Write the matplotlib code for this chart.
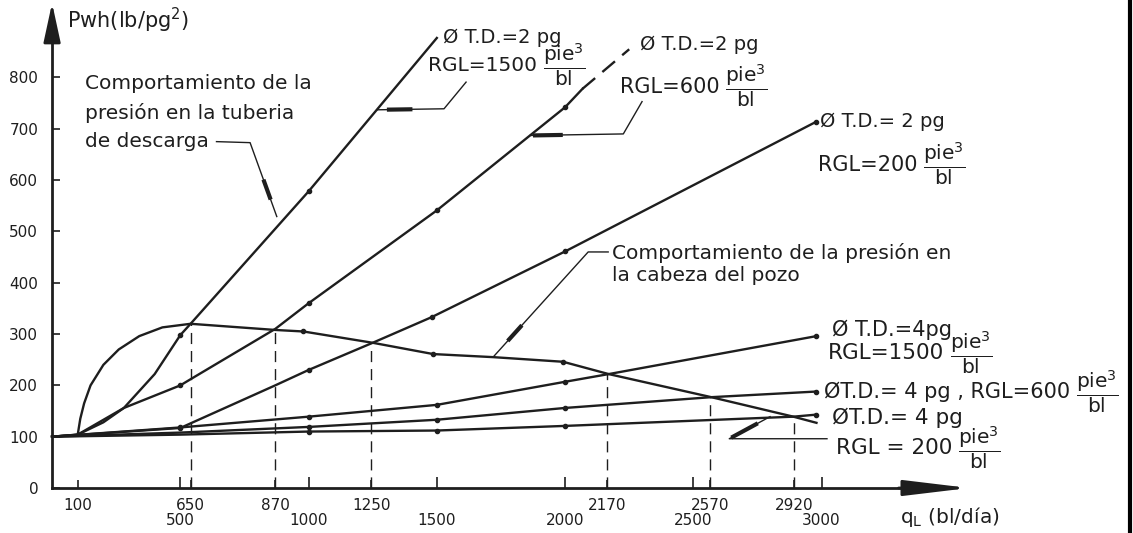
import numpy as np
import matplotlib.pyplot as plt
from matplotlib.lines import Line2D

# q_L (bl/dia) vs Pwh (lb/pg2)
q_2_1500 = [0, 100, 200, 280, 400, 500, 540, 1000, 1500]
p_2_1500 = [100, 104, 128, 156, 222, 298, 320, 578, 877]

q_2_600 = [0, 100, 280, 500, 540, 870, 1000, 1500, 2000, 2068]
p_2_600 = [100, 104, 156, 200, 212, 310, 360, 541, 742, 778]
q_2_600_ext = [2068, 2250]
p_2_600_ext = [778, 855]

q_2_200 = [0, 500, 870, 1000, 1250, 1480, 2000, 2980]
p_2_200 = [100, 117, 200, 230, 283, 333, 461, 714]

q_4_1500 = [0, 500, 1000, 1500, 2000, 2170, 2980]
p_4_1500 = [100, 118, 139, 162, 207, 222, 296]

q_4_600 = [0, 500, 1000, 1500, 2000, 2570, 2980]
p_4_600 = [100, 108, 119, 133, 156, 177, 188]

q_4_200 = [0, 500, 1000, 1500, 2000, 2890, 2980]
p_4_200 = [100, 104, 110, 112, 121, 139, 143]

# presion en la cabeza del pozo
q_wh = [100, 110, 125, 150, 200, 260, 340, 430, 540, 870, 980, 1250,
        1486, 1720, 1992, 2170, 2570, 2890, 2980]
p_wh = [104, 135, 165, 200, 240, 270, 296, 313, 320, 308, 305, 283,
        261, 255, 246, 222, 177, 139, 127]

# intersections (dashed drop lines) and their labels
q_cross = [540, 870, 1245, 2165, 2565, 2893]
p_cross = [320, 310, 283, 222, 177, 139]
cross_labels = ['650', '870', '1250', '2170', '2570', '2920']

y_ticks = [0, 100, 200, 300, 400, 500, 600, 700, 800]
x_ticks = [500, 1000, 1500, 2000, 2500, 3000]

ink = '#1e1e1e'

fig = plt.figure(figsize=(11.33, 5.33), dpi=100)
ax = fig.add_axes([0, 0, 1, 1])
ax.set_xlim(-203, 4214)
ax.set_ylim(-87.7, 951)

for s in ['top', 'right']:
    ax.spines[s].set_visible(False)
ax.spines['left'].set_position(('data', 0))
ax.spines['bottom'].set_position(('data', 0))
ax.spines['left'].set_bounds(0, 900)
ax.spines['bottom'].set_bounds(0, 3400)
for s in ['left', 'bottom']:
    ax.spines[s].set_linewidth(2)
    ax.spines[s].set_color(ink)

ax.set_yticks(y_ticks)
ax.set_yticklabels([str(v) for v in y_ticks])
ax.set_xticks(x_ticks)
ax.set_xticklabels([str(v) for v in x_ticks])
ax.set_xticks([100] + q_cross, minor=True)
ax.set_xticklabels(['100'] + cross_labels, minor=True)
ax.tick_params(axis='y', direction='in', length=6, width=1.2, pad=10,
               labelsize=11, colors=ink)
ax.tick_params(axis='x', which='major', direction='in', length=8, width=1.2,
               pad=18, labelsize=11, colors=ink)
ax.tick_params(axis='x', which='minor', direction='in', length=6, width=1.2,
               pad=7, labelsize=11, colors=ink)

# axis arrows
ax.annotate('', xy=(0, 945), xytext=(0, 880),
            arrowprops=dict(arrowstyle='-|>,head_length=0.6,head_width=0.13',
                            mutation_scale=40, color=ink, lw=2,
                            shrinkA=0, shrinkB=0))
ax.annotate('', xy=(3575, 0), xytext=(3300, 0),
            arrowprops=dict(arrowstyle='-|>,head_length=1.0,head_width=0.12',
                            mutation_scale=40, color=ink, lw=2,
                            shrinkA=0, shrinkB=0))

lw = 1.7
ax.plot(q_2_1500, p_2_1500, color=ink, lw=lw, marker='o', ms=3, markevery=[5, 7])
ax.plot(q_2_600, p_2_600, color=ink, lw=lw, marker='o', ms=3, markevery=[3, 6, 7, 8])
ax.plot(q_2_600_ext, p_2_600_ext, color=ink, lw=lw, ls=(0, (7, 4)))
ax.plot(q_2_200, p_2_200, color=ink, lw=lw, marker='o', ms=3, markevery=[1, 3, 5, 6, 7])
ax.plot(q_4_1500, p_4_1500, color=ink, lw=lw, marker='o', ms=3, markevery=[1, 2, 3, 4, 6])
ax.plot(q_4_600, p_4_600, color=ink, lw=lw, marker='o', ms=3, markevery=[2, 3, 4, 6])
ax.plot(q_4_200, p_4_200, color=ink, lw=lw, marker='o', ms=3, markevery=[2, 3, 4, 6])
ax.plot(q_wh, p_wh, color=ink, lw=lw, marker='o', ms=3, markevery=[10, 12, 14])

ax.vlines(q_cross, 0, p_cross, colors=ink, lw=1, linestyles=(0, (8, 5)))


def leader(pts, seg, t0, t1):
    pts = np.array(pts, dtype=float)
    ax.plot(pts[:, 0], pts[:, 1], color=ink, lw=1)
    a, b = pts[seg], pts[seg + 1]
    ax.plot([a[0] + (b[0] - a[0]) * t0, a[0] + (b[0] - a[0]) * t1],
            [a[1] + (b[1] - a[1]) * t0, a[1] + (b[1] - a[1]) * t1],
            color=ink, lw=3, solid_capstyle='butt')


leader([(641, 675), (772, 673), (876, 529)], 1, 0.5, 0.77)
leader([(1266, 737), (1528, 739), (1614, 791)], 0, 0.15, 0.53)
leader([(1864, 687), (2227, 690), (2300, 753)], 0, 0.03, 0.35)
leader([(2168, 460), (2090, 460), (1721, 256)], 1, 0.7, 0.85)
leader([(3021, 96), (2640, 96), (2799, 139)], 1, 0.05, 0.7)

frac = r'$\dfrac{\mathrm{pie}^{3}}{\mathrm{bl}}$'


def rgl(x, y, s, size, fsize=14.5):
    t = ax.text(x, y, s, fontsize=size, va='center', color=ink)
    ax.annotate(frac, xy=(1, 0.5), xycoords=t, xytext=(4, 0),
                textcoords='offset points', fontsize=fsize, va='center',
                color=ink)


ax.text(58, 912, r'Pwh(lb/pg$^2$)', fontsize=15, va='center', color=ink)
ax.text(3306, -56, r'q$_\mathrm{L}$ (bl/día)', fontsize=14.5, va='center', color=ink)

ax.text(129, 806, 'Comportamiento de la\npresión en la tuberia\nde descarga',
        fontsize=14.5, va='top', ha='left', linespacing=1.6, color=ink)
ax.text(2183, 478, 'Comportamiento de la presión en\nla cabeza del pozo',
        fontsize=14.5, va='top', ha='left', linespacing=1.25, color=ink)

ax.text(1524, 877, 'Ø T.D.=2 pg', fontsize=14, va='center', color=ink)
rgl(1466, 823, 'RGL=1500', 14.5)
ax.text(2292, 864, 'Ø T.D.=2 pg', fontsize=14, va='center', color=ink)
rgl(2214, 782, 'RGL=600', 15)
ax.text(2994, 715, 'Ø T.D.= 2 pg', fontsize=14, va='center', color=ink)
rgl(2986, 630, 'RGL=200', 15)
ax.text(3041, 308, 'Ø T.D.=4pg', fontsize=15, va='center', color=ink)
rgl(3025, 263, 'RGL=1500', 15.5)
rgl(3010, 187, 'ØT.D.= 4 pg , RGL=600', 15)
ax.text(3041, 136, 'ØT.D.= 4 pg', fontsize=15.5, va='center', color=ink)
rgl(3057, 78, 'RGL = 200', 15.5)

# scan edge on the right
fig.add_artist(Line2D([0.9975, 0.9975], [0, 1], transform=fig.transFigure,
                      color='black', lw=3))

fig.savefig('out.png', dpi=100, facecolor='white')
